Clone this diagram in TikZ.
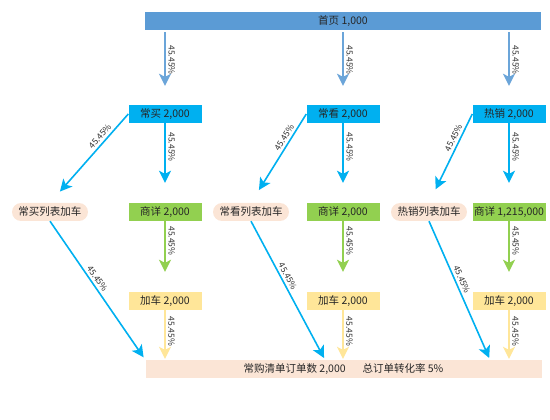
\documentclass[tikz,border=0pt]{standalone}
\usepackage{fontspec}
\setmainfont{Noto Sans CJK SC}
\usetikzlibrary{arrows.meta}

\definecolor{homeblue}{HTML}{5B9BD5}
\definecolor{srccyan}{HTML}{00B0F0}
\definecolor{detgreen}{HTML}{92D050}
\definecolor{cartyellow}{HTML}{FFE699}
\definecolor{listpeach}{HTML}{FBE5D6}

\begin{document}
\begin{tikzpicture}[
    x=1pt, y=-1pt,
    font=\fontsize{10.5}{12}\selectfont,
    box/.style={minimum height=18pt, minimum width=73pt, inner sep=0pt,
                text=black!85},
    bar/.style={box, minimum width=396pt},
    src/.style={box, fill=srccyan},
    det/.style={box, fill=detgreen},
    cart/.style={box, fill=cartyellow},
    lst/.style={box, fill=listpeach, minimum width=76pt, rounded corners=9pt},
    flow/.style={-{Stealth[length=12pt, width=12pt, inset=3pt]},
                 line width=1.8pt},
    pct/.style={font=\fontsize{8.5}{9}\selectfont, inner sep=2.5pt,
                text=black!80},
    down/.style={pct, rotate=-90, anchor=south}
  ]

  \useasboundingbox (0,0) rectangle (550,420);

  % Entry and the three sources.
  \node[bar, fill=homeblue] (home) at (343,21) {首页 1,000};
  \node[src] (buy) at (165,114) {常买 2,000};
  \node[src] (see) at (343,114) {常看 2,000};
  \node[src] (hot) at (509,114) {热销 2,000};

  \node[lst] (buylist) at (50,212)  {常买列表加车};
  \node[lst] (seelist) at (251,212) {常看列表加车};
  \node[lst] (hotlist) at (429,212) {热销列表加车};

  \node[det] (buydet) at (165,212) {商详 2,000};
  \node[det] (seedet) at (343,212) {商详 2,000};
  \node[det] (hotdet) at (509,212) {商详 1,215,000};

  \node[cart] (buycart) at (165,301) {加车 2,000};
  \node[cart] (seecart) at (343,301) {加车 2,000};
  \node[cart] (hotcart) at (509,301) {加车 2,000};

  \node[bar, fill=listpeach] (orders) at (343.5,369)
    {常购清单订单数 2,000\hspace{1.6em}总订单转化率 5\%};

  % Home page into each source.
  \foreach \s in {buy, see, hot}
    \draw[flow, homeblue!90, shorten <=2pt, shorten >=19pt]
      (home.south -| \s) -- node[down, pos=0.4] {45.45\%} (\s);

  % Each column: source, detail page, cart, orders.
  \foreach \s/\d/\c in {buy/buydet/buycart, see/seedet/seecart,
                        hot/hotdet/hotcart} {
    \draw[flow, srccyan, shorten >=20pt]
      (\s) -- node[down, pos=0.3] {45.45\%} (\d);
    \draw[flow, detgreen, shorten >=20pt]
      (\d) -- node[down, pos=0.28] {45.45\%} (\c);
    \draw[flow, cartyellow, line width=1.4pt, shorten >=1pt]
      (\c) -- node[down, pos=0.43] {45.45\%} (\c |- orders.north);
  }

  % Side route through the list pages.
  \foreach \s/\l in {buy/buylist, see/seelist, hot/hotlist}
    \draw[flow, srccyan, line width=1.6pt, shorten >=15pt]
      (\s.west) -- node[pct, sloped, above, pos=0.3] {45.45\%} (\l.north);

  \draw[flow, srccyan, line width=1.6pt, shorten >=3pt]
    (buylist.south) -- node[pct, sloped, above, pos=0.44] {45.45\%}
    (orders.north west);
  \draw[flow, srccyan, line width=1.6pt, shorten >=2pt]
    (seelist.south) -- node[pct, sloped, above, pos=0.42] {45.45\%}
    ([xshift=-18pt]orders.north -| seecart);
  \draw[flow, srccyan, line width=1.6pt, shorten >=2pt]
    (hotlist.south) -- node[pct, sloped, above, pos=0.44] {45.45\%}
    ([xshift=-19pt]orders.north -| hotcart);

\end{tikzpicture}
\end{document}
